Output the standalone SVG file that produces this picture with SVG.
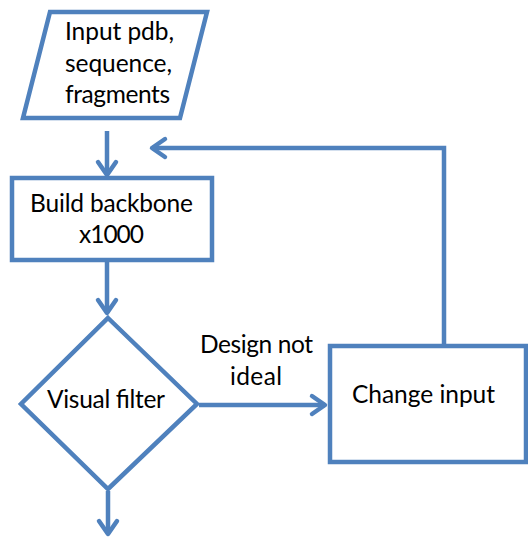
<svg xmlns="http://www.w3.org/2000/svg" width="528" height="540" viewBox="0 0 528 540">
  <style>
    .shape { fill: #ffffff; stroke: #4F81BD; stroke-width: 4.5; stroke-linejoin: miter; }
    .wire { fill: none; stroke: #4F81BD; stroke-width: 4.5; }
    .lbl { font-family: Lato, "Open Sans", "Liberation Sans", sans-serif; font-size: 24.5px; fill: #000000; text-anchor: middle; }
  </style>
  <defs>
    <marker id="arrow" markerUnits="userSpaceOnUse" markerWidth="30" markerHeight="30" viewBox="-20 -15 30 30" refX="0" refY="0" orient="auto" overflow="visible">
      <path d="M -13 -9 L 0 0 L -13 9" fill="none" stroke="#4F81BD" stroke-width="4.5" stroke-linecap="round" stroke-linejoin="round"/>
    </marker>
  </defs>

  <!-- connectors -->
  <g id="connectors">
    <line class="wire" x1="107" y1="131" x2="107" y2="175" marker-end="url(#arrow)"/>
    <line class="wire" x1="107" y1="262" x2="107" y2="313" marker-end="url(#arrow)"/>
    <line class="wire" x1="108" y1="491" x2="108" y2="534" marker-end="url(#arrow)"/>
    <line class="wire" x1="199" y1="405" x2="325" y2="405" marker-end="url(#arrow)"/>
    <polyline class="wire" points="444,346 444,148 152,148" marker-end="url(#arrow)"/>
    <text class="lbl" x="256.5" y="353" textLength="113">Design not</text>
    <text class="lbl" x="256" y="385" textLength="52">ideal</text>
  </g>

  <!-- input data -->
  <g id="input">
    <polygon class="shape" points="50,12 207,12 180,118 23,118"/>
    <text class="lbl" x="119.5" y="40" textLength="109">Input pdb,</text>
    <text class="lbl" x="118.5" y="71.5" textLength="107">sequence,</text>
    <text class="lbl" x="117.5" y="103" textLength="105">fragments</text>
  </g>

  <!-- backbone build step -->
  <g id="build">
    <rect class="shape" x="12" y="178" width="200" height="82"/>
    <text class="lbl" x="111.5" y="212" textLength="163">Build backbone</text>
    <text class="lbl" x="111.5" y="243" textLength="65">x1000</text>
  </g>

  <!-- decision -->
  <g id="filter">
    <polygon class="shape" points="108,318 197,404 108,489 21,404"/>
    <text class="lbl" x="106" y="408" textLength="118">Visual filter</text>
  </g>

  <!-- revision step -->
  <g id="change">
    <rect class="shape" x="330" y="346" width="196" height="116"/>
    <text class="lbl" x="423.5" y="403" textLength="143">Change input</text>
  </g>
</svg>
